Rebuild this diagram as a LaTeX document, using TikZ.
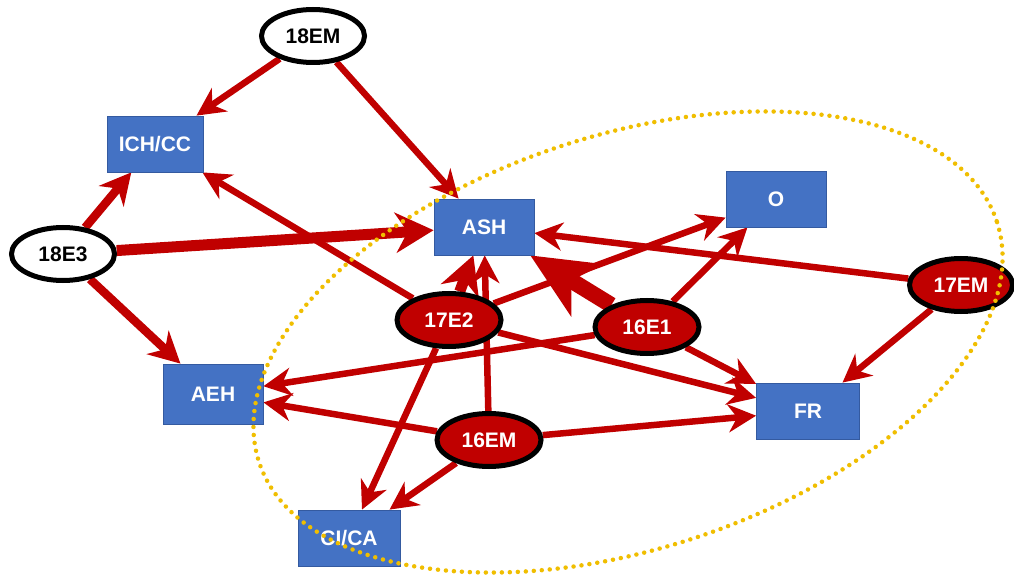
\documentclass[tikz,border=0pt]{standalone}
\usepackage{fontspec}
\setmainfont{Liberation Sans}
\usetikzlibrary{arrows.meta,shapes.geometric,backgrounds}
\definecolor{pptblue}{RGB}{68,114,196}
\definecolor{pptblueline}{RGB}{52,90,160}
\definecolor{darkred}{RGB}{192,0,0}
\definecolor{dotgold}{RGB}{240,190,0}
\begin{document}
\begin{tikzpicture}[x=1pt,y=-1pt,
  lbl/.style={font=\fontsize{21}{23}\selectfont\bfseries},
  box/.style={rectangle,fill=pptblue,draw=pptblueline,line width=0.8pt,text=white,
    minimum width=100pt,minimum height=56pt,inner sep=0pt,lbl},
  whiteell/.style={ellipse,draw=black,fill=white,line width=5pt,text=black,
    minimum width=103pt,minimum height=53pt,inner sep=0pt,lbl},
  redell/.style={whiteell,fill=darkred,text=white},
  link/.style={draw=darkred,line width=6.5pt,-{Stealth[length=28pt,width=28pt,inset=9pt]}},
  linkM/.style={draw=darkred,line width=8.5pt,-{Stealth[length=31pt,width=32pt,inset=10pt]}},
  linkL/.style={draw=darkred,line width=11pt,-{Stealth[length=38pt,width=40pt,inset=12pt]}},
  linkXL/.style={draw=darkred,line width=16pt,-{Stealth[length=66pt,width=60pt,inset=18pt]}},
  region/.style={draw=dotgold,line width=4.5pt,line cap=round,dash pattern=on 0pt off 8pt}
]
\useasboundingbox (0,0) rectangle (1014,577);

% nodes
\node[whiteell] (n18EM) at (313,36) {18EM};
\node[whiteell] (n18E3) at (63,254) {18E3};
\node[box,minimum width=96pt] (ich) at (155,144) {ICH/CC};
\node[box] (ash) at (484,227) {ASH};
\node[box] (o) at (776,199) {O};
\node[box,minimum height=60pt] (aeh) at (213,394) {AEH};
\node[box,minimum width=103pt] (fr) at (808,411) {FR};
\node[box,minimum width=102pt] (cica) at (349,538) {CI/CA};
\node[redell] (n17EM) at (961,285) {17EM};
\node[redell,minimum width=104pt] (n17E2) at (449,320) {17E2};
\node[redell,minimum width=104pt] (n16E1) at (647,327) {16E1};
\node[redell,minimum width=104pt] (n16EM) at (489,440) {16EM};

% connectors
\begin{scope}[on background layer]
\fill[white] (0,0) rectangle (1014,577);
\draw[link] (n18EM) -- (ich);
\draw[link] (n18EM) -- (ash);
\draw[linkM] (n18E3) -- (ich);
\draw[linkL] (n18E3) -- (ash);
\draw[linkM] (n18E3) -- (aeh);
\draw[link] (n17E2) -- (ich);
\draw[link] (n16EM) -- (ash);
\draw[linkL] (n17E2) -- (ash);
\draw[link] (n17E2) -- (o);
\draw[link] (n17E2) -- (fr);
\draw[link] (n17E2) -- (cica);
\draw[link] (n16E1) -- (o);
\draw[link] (n16E1) -- (aeh);
\draw[link] (n16E1) -- (fr);
\draw[linkXL] (n16E1) -- (ash);
\draw[link] (n17EM) -- (ash);
\draw[link] (n17EM) -- (fr);
\draw[link] (n16EM) -- (aeh);
\draw[link] (n16EM) -- (fr);
\draw[link] (n16EM) -- (cica);
\end{scope}

% dotted region
\draw[region,rotate around={18:(628,342)}] (628,342) ellipse [x radius=388, y radius=207];
\end{tikzpicture}
\end{document}
